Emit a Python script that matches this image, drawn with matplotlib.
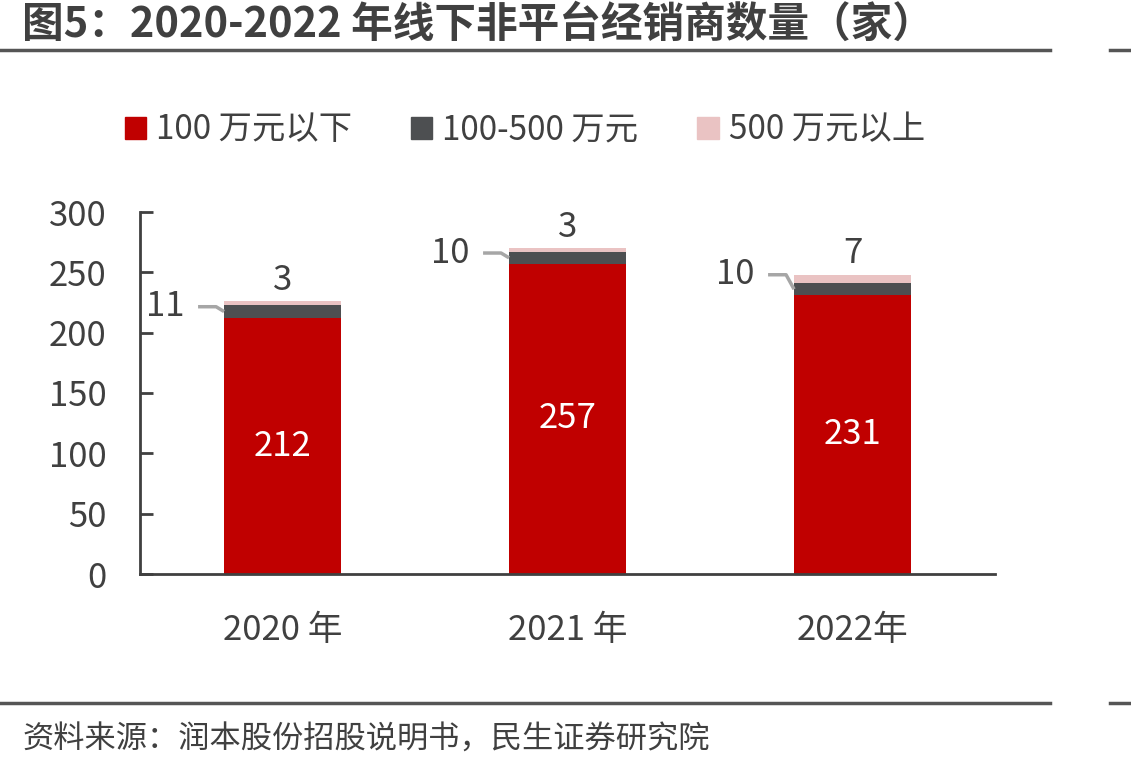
import matplotlib
matplotlib.use("Agg")
import matplotlib.pyplot as plt
from matplotlib.lines import Line2D
from matplotlib.patches import Rectangle
import numpy as np

plt.rcParams['font.family'] = ['Noto Sans CJK SC', 'DejaVu Sans']

categories = ["2020 年", "2021 年", "2022年"]
below_100 = [212, 257, 231]
mid_100_500 = [11, 10, 10]
above_500 = [3, 3, 7]
series_names = ["100 万元以下", "100-500 万元", "500 万元以上"]
yticks = [0, 50, 100, 150, 200, 250, 300]

c_red = "#C00000"
c_dark = "#4D4F51"
c_pink = "#EAC3C3"
c_text = "#404040"

fig = plt.figure(figsize=(11.31, 7.71), dpi=100)
W, H = 1131, 771
ax = fig.add_axes([140 / W, 1 - 574 / H, (995 - 140) / W, (574 - 212) / H])

x = np.arange(len(categories))
bw = 0.41
b1 = np.array(below_100)
b2 = np.array(mid_100_500)
b3 = np.array(above_500)
ax.bar(x, b1, bw, color=c_red, label=series_names[0])
ax.bar(x, b2, bw, bottom=b1, color=c_dark, label=series_names[1])
ax.bar(x, b3, bw, bottom=b1 + b2, color=c_pink, label=series_names[2])

ax.set_xlim(-0.5, 2.5)
ax.set_ylim(0, 300)
ax.set_yticks(yticks)
ax.set_yticklabels([str(v) for v in yticks], fontsize=25, color=c_text)
ax.set_xticks(x)
ax.set_xticklabels(categories, fontsize=25, color=c_text)
ax.tick_params(axis='x', length=0, pad=28)
ax.tick_params(axis='y', direction='in', length=9, width=2, color="#404040", pad=24)
for s in ["top", "right"]:
    ax.spines[s].set_visible(False)
ax.spines["left"].set_color("#404040")
ax.spines["left"].set_linewidth(2)
ax.spines["bottom"].set_color("#404040")
ax.spines["bottom"].set_linewidth(2)

px = 1 / 285.0  # x data units per pixel
label_rise = [4, 4, 12]
for i in range(len(x)):
    ax.text(x[i], b1[i] / 2, str(b1[i]), ha='center', va='center', fontsize=25, color='white')
    top = b1[i] + b2[i] + b3[i]
    ax.text(x[i], top + 3, str(b3[i]), ha='center', va='bottom', fontsize=25, color=c_text)
    ymid = b1[i] + b2[i] / 2
    ylab = ymid + label_rise[i]
    edge = x[i] - bw / 2
    xl0 = edge - 26 * px
    xl1 = edge - 8 * px
    ax.plot([xl0, xl1, edge], [ylab, ylab, ymid], color="#A6A6A6", lw=2.5,
            solid_capstyle='butt', clip_on=False)
    ax.text(xl0 - 14 * px, ylab, str(b2[i]), ha='right', va='center', fontsize=25, color=c_text)

handles = [Rectangle((0, 0), 1, 1, color=c) for c in (c_red, c_dark, c_pink)]
fig.legend(handles, series_names, loc='center left', bbox_to_anchor=(108 / W, 1 - 130 / H),
           ncol=3, frameon=False, fontsize=24, handlelength=0.65, handleheight=0.65,
           handletextpad=0.3, columnspacing=1.75, labelcolor=c_text, borderpad=0)

fig.text(22 / W, 1 - 25 / H, "图5：2020-2022 年线下非平台经销商数量（家）", fontsize=30,
         fontweight='bold', color=c_text, ha='left', va='center')
for yy in (50, 703):
    fig.add_artist(Line2D([0, 1050 / W], [1 - yy / H] * 2, color="#555555", lw=2.5))
    fig.add_artist(Line2D([1110 / W, 1], [1 - yy / H] * 2, color="#555555", lw=2.5))
fig.text(22 / W, 1 - 740 / H, "资料来源：润本股份招股说明书，民生证券研究院", fontsize=22.5,
         color=c_text, ha='left', va='center')

fig.savefig("out.png", dpi=100)
